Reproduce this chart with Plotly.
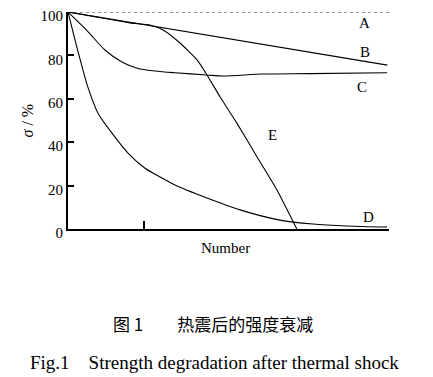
import plotly.graph_objects as go

# ---- data (x in arbitrary "Number" units 0..10, y = sigma %) ----
a_x = [0, 10]
a_y = [100, 100]

b_x = [0, 9.95]
b_y = [100, 75.5]

c_x = [0, 0.62, 1.15, 1.68, 2.18, 2.71, 3.33, 4.33, 4.83, 6.07, 7.54, 9.94]
c_y = [100, 91, 82.5, 77, 74, 72.8, 72, 71, 70.5, 71.4, 71.6, 72]

d_x = [0, 0.22, 0.44, 0.62, 0.93, 1.37, 1.87, 2.40, 2.93, 3.33, 4.33, 5.36, 6.60, 7.63, 8.69, 9.94]
d_y = [100, 87, 74.7, 65.4, 53.5, 44.2, 35, 28, 23.5, 20.3, 14.3, 8.8, 4.1, 2.3, 1.4, 0.9]

e_x = [0, 1.93, 2.55, 2.96, 3.49, 4.02, 4.33, 4.74, 5.26, 5.89, 6.51, 7.13]
e_y = [100, 95.0, 94, 91.7, 85.7, 77.9, 71, 60.8, 48.8, 33.2, 18, 0]

y_ticks = [0, 20, 40, 60, 80, 100]
x_ticks = [2.37]

curve_labels = ["A", "B", "C", "D", "E"]
label_x = [9.25, 9.25, 9.16, 9.35, 6.36]
label_y = [94.9, 81.6, 65.4, 5.5, 43.3]

SERIF = "Liberation Serif, Times New Roman, serif"

fig = go.Figure()
line = dict(color="black", width=1.1)
fig.add_trace(go.Scatter(x=a_x, y=a_y, mode="lines", line=dict(color="black", width=0.8, dash="dot"), cliponaxis=False))
fig.add_trace(go.Scatter(x=b_x, y=b_y, mode="lines", line=line, cliponaxis=False))
fig.add_trace(go.Scatter(x=c_x, y=c_y, mode="lines", line=dict(color="black", width=1.1, shape="spline", smoothing=0.8), cliponaxis=False))
fig.add_trace(go.Scatter(x=d_x, y=d_y, mode="lines", line=dict(color="black", width=1.1, shape="spline", smoothing=0.8), cliponaxis=False))
fig.add_trace(go.Scatter(x=e_x, y=e_y, mode="lines", line=dict(color="black", width=1.1, shape="spline", smoothing=0.5), cliponaxis=False))

for t, xx, yy in zip(curve_labels, label_x, label_y):
    fig.add_annotation(x=xx, y=yy, text=t, showarrow=False, font=dict(family=SERIF, size=15, color="black"))

fig.add_annotation(xref="paper", yref="y", x=(27 - 68) / 321, y=50, text="<i>σ</i> / %",
                   xanchor="center", yanchor="middle",
                   textangle=-90, showarrow=False, font=dict(family=SERIF, size=16, color="black"))
fig.add_annotation(xref="paper", yref="paper", x=(225 - 68) / 321, y=(229 - 248) / 217, text="Number",
                   xanchor="center", yanchor="middle",
                   showarrow=False, font=dict(family=SERIF, size=15, color="black"))
fig.add_annotation(xref="paper", yref="paper", x=(213 - 68) / 321, y=(229 - 323) / 217,
                   text="图\u00a01\u2003\u2003热震后的强度衰减", showarrow=False,
                   xanchor="center", yanchor="middle",
                   font=dict(family="Noto Sans CJK SC", size=17, color="black"))
fig.add_annotation(xref="paper", yref="paper", x=(214 - 68) / 321, y=(229 - 362) / 217,
                   text="Fig.1\u00a0\u00a0\u00a0\u00a0Strength degradation after thermal shock", showarrow=False,
                   xanchor="center", yanchor="middle",
                   font=dict(family=SERIF, size=19, color="black"))

# page body has an 8px margin, so the figure is shrunk and margins shifted by 8px
fig.update_layout(
    width=425, height=369,
    margin=dict(l=60, r=44, t=4, b=148, autoexpand=False),
    paper_bgcolor="white", plot_bgcolor="white",
    showlegend=False,
    xaxis=dict(range=[0, 10], showgrid=False, zeroline=False, showline=True, linecolor="black", linewidth=2,
               automargin=False,
               tickvals=x_ticks, ticktext=[""], ticks="inside", ticklen=8, tickwidth=2, tickcolor="black"),
    yaxis=dict(range=[0, 100], showgrid=False, zeroline=False, showline=True, linecolor="black", linewidth=2,
               automargin=False, ticklabeloverflow="allow", ticklabelshift=4,
               tickvals=y_ticks, ticks="inside", ticklen=6, tickwidth=1.5, tickcolor="black",
               tickfont=dict(family=SERIF, size=15, color="black")),
)
fig.write_html("out.html")
